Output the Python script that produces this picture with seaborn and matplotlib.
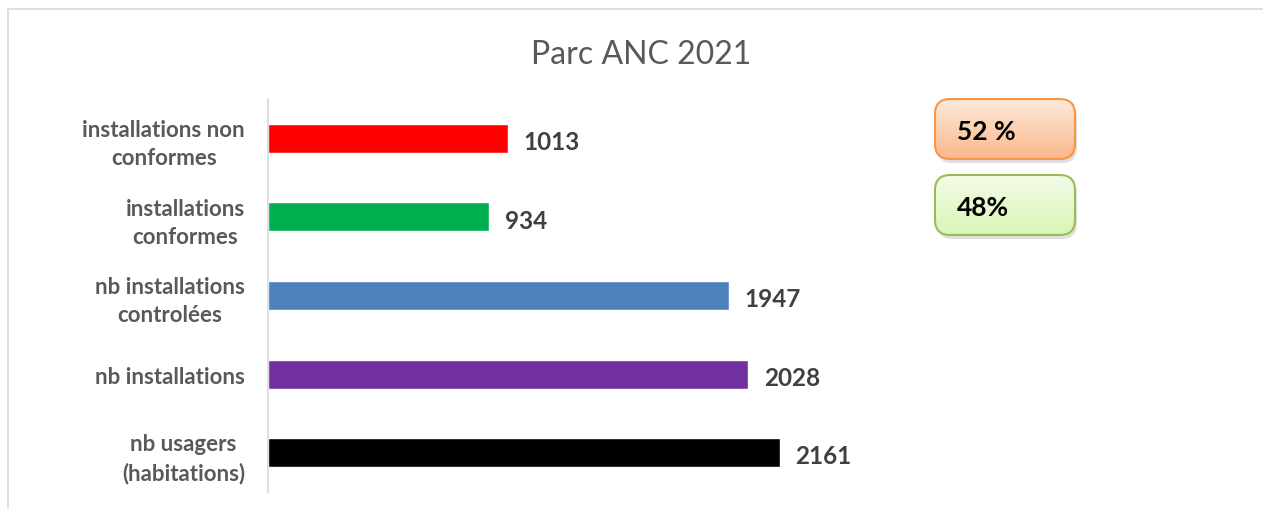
import numpy as np
import pandas as pd
import matplotlib
matplotlib.use("Agg")
import matplotlib.pyplot as plt
import seaborn as sns
from matplotlib.patches import FancyBboxPatch
from matplotlib.lines import Line2D

# data
categories = ["installations non\nconformes", "installations\nconformes",
              "nb installations\ncontrolées", "nb installations",
              "nb usagers\n(habitations)"]
values = [1013, 934, 1947, 2028, 2161]
colors = ["#ff0000", "#00b050", "#4f81bd", "#7030a0", "#000000"]
box_labels = ["52 %", "48%"]

sns.set_theme(style="white")
plt.rcParams['font.family'] = ['Lato', 'DejaVu Sans']

W, H = 1263, 510
fig = plt.figure(figsize=(W / 100, H / 100), dpi=100)

# outer chart border
fig.add_artist(Line2D([8 / W, 1], [1 - 10 / H, 1 - 10 / H], color="#d9d9d9", lw=1.2))
fig.add_artist(Line2D([8 / W, 8 / W], [0, 1 - 10 / H], color="#d9d9d9", lw=1.2))

ax_left, ax_right, ax_top, ax_bot = 268, 1240, 100, 493
ax = fig.add_axes([ax_left / W, 1 - ax_bot / H, (ax_right - ax_left) / W, (ax_bot - ax_top) / H])
ax.patch.set_visible(False)

df = pd.DataFrame({"cat": categories, "val": values})
sns.barplot(data=df, y="cat", x="val", hue="cat", palette=colors, legend=False,
            width=0.37, saturation=1, ax=ax, orient="h")

ax.set_xlim(0, (ax_right - ax_left) / 0.2369)
ax.set_xlabel("")
ax.set_ylabel("")
ax.set_xticks([])
for s in ["top", "right", "bottom"]:
    ax.spines[s].set_visible(False)
ax.spines["left"].set_color("#d9d9d9")
ax.spines["left"].set_linewidth(1.2)
ax.tick_params(axis="y", length=0, pad=16.5)
for lbl in ax.get_yticklabels():
    lbl.set_fontsize(16)
    lbl.set_fontweight("bold")
    lbl.set_color("#595959")
    lbl.set_horizontalalignment("right")
    lbl.set_multialignment("center")
    lbl.set_linespacing(1.4)

for i, v in enumerate(values):
    ax.text(v + 65, i + 0.04, str(v), va="center", ha="left", fontsize=17.5,
            fontweight="bold", color="#404040")

fig.text(641 / W, 1 - 55 / H, "Parc ANC 2021", ha="center", va="center",
         fontsize=23, fontweight="normal", color="#595959")

# percentage boxes with gradient fill
def grad_box(x0, y0, w, h, top_col, bot_col, edge, label):
    fx, fy = x0 / W, 1 - (y0 + h) / H
    fw, fh = w / W, h / H
    shadow = FancyBboxPatch((fx + 2 / W, fy - 4 / H), fw, fh,
                            boxstyle="round,pad=0,rounding_size=0.012",
                            transform=fig.transFigure, fc="#000000", alpha=0.12,
                            ec="none", mutation_aspect=W / H, zorder=-1)
    fig.add_artist(shadow)
    bax = fig.add_axes([fx, fy, fw, fh])
    bax.set_axis_off()
    c1 = np.array(matplotlib.colors.to_rgb(top_col))
    c2 = np.array(matplotlib.colors.to_rgb(bot_col))
    t = np.linspace(0, 1, 100)[:, None]
    img = (c1 * (1 - t) + c2 * t)[:, None, :]
    im = bax.imshow(img, extent=[0, 1, 0, 1], aspect="auto", origin="upper")
    patch = FancyBboxPatch((fx, fy), fw, fh,
                           boxstyle="round,pad=0,rounding_size=0.012",
                           transform=fig.transFigure, fc="none", ec=edge, lw=1.5,
                           mutation_aspect=W / H, zorder=3)
    fig.add_artist(patch)
    im.set_clip_path(patch)
    fig.text((x0 + 22) / W, 1 - (y0 + h / 2 + 2) / H, label, ha="left", va="center",
             fontsize=19, fontweight="bold", color="#000000", zorder=4)

grad_box(935, 100, 140, 60, "#fde9db", "#fab88a", "#f79646", box_labels[0])
grad_box(935, 176, 140, 60, "#f3fbe8", "#d9f5b5", "#9bbb59", box_labels[1])

fig.savefig("out.png", dpi=100)
